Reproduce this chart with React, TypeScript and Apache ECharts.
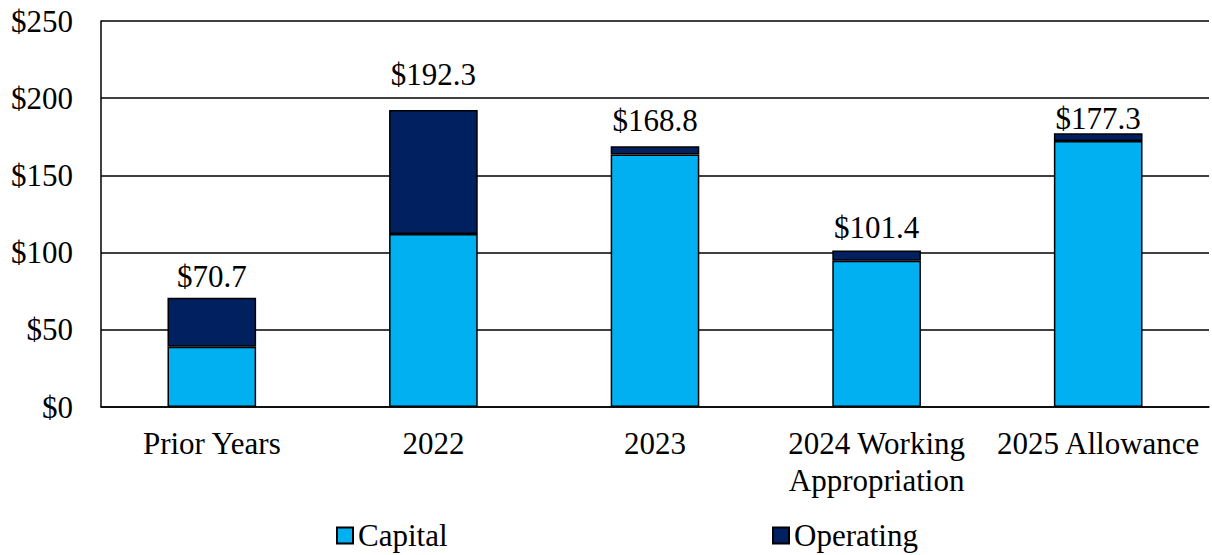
import React, { useEffect, useRef } from "react";
import * as echarts from "echarts";

const categories = ["Prior Years", "2022", "2023", "2024 Working\nAppropriation", "2025 Allowance"];
const capital = [39.0, 112.0, 163.6, 94.8, 172.3];
const operating = [31.7, 80.3, 5.2, 6.6, 5.0];
const yTicks = { min: 0, max: 250, interval: 50 };

const FONT = '"Liberation Serif", "Times New Roman", serif';
// vertical nudges of the total labels, as placed in the reference
const labelNudge = [0, -14, -4, -1, 7];

export default function App() {
  const ref = useRef<HTMLDivElement>(null);
  useEffect(() => {
    if (!ref.current) return;
    const chart = echarts.init(ref.current, undefined, { renderer: "svg" });
    const legendText = { fontFamily: FONT, fontSize: 31, color: "#000", lineHeight: 30 };
    chart.setOption({
      animation: false,
      backgroundColor: "#ffffff",
      textStyle: { fontFamily: FONT, color: "#000" },
      grid: { left: 101, right: 3, top: 21, bottom: 148, containLabel: false },
      legend: [
        {
          data: ["Capital"],
          left: 336,
          top: 520,
          padding: 0,
          icon: "rect",
          itemWidth: 16,
          itemHeight: 16,
          textStyle: legendText,
        },
        {
          data: ["Operating"],
          left: 772,
          top: 520,
          padding: 0,
          icon: "rect",
          itemWidth: 16,
          itemHeight: 16,
          textStyle: legendText,
        },
      ],
      xAxis: {
        type: "category",
        data: categories,
        axisLine: { show: true, lineStyle: { color: "#000", width: 1.5 } },
        axisTick: { show: false },
        axisLabel: {
          interval: 0,
          fontFamily: FONT,
          fontSize: 31,
          color: "#000",
          lineHeight: 37,
          margin: 18,
        },
      },
      yAxis: {
        type: "value",
        min: yTicks.min,
        max: yTicks.max,
        interval: yTicks.interval,
        axisLine: { show: true, lineStyle: { color: "#000", width: 1.5 } },
        axisTick: { show: false },
        splitLine: { show: true, lineStyle: { color: "#000", width: 1.5 } },
        axisLabel: {
          fontFamily: FONT,
          fontSize: 31,
          color: "#000",
          margin: 28,
          formatter: (v: number) => "$" + v,
        },
      },
      series: [
        {
          name: "Capital",
          type: "bar",
          stack: "total",
          data: capital,
          barWidth: "40%",
          itemStyle: { color: "#00B0F0", borderColor: "#000", borderWidth: 1.5 },
        },
        {
          name: "Operating",
          type: "bar",
          stack: "total",
          data: operating.map((v, i) => ({
            value: v,
            label: { offset: [0, labelNudge[i]] },
          })),
          barWidth: "40%",
          itemStyle: { color: "#002060", borderColor: "#000", borderWidth: 1.5 },
          label: {
            show: true,
            position: "top",
            distance: 6,
            fontFamily: FONT,
            fontSize: 31,
            color: "#000",
            formatter: (p: any) => "$" + (capital[p.dataIndex] + operating[p.dataIndex]).toFixed(1),
          },
        },
      ],
    });
    return () => chart.dispose();
  }, []);
  return (
    <div
      ref={ref}
      style={{ position: "fixed", left: 0, top: 0, width: 1212, height: 555, background: "#fff" }}
    />
  );
}
